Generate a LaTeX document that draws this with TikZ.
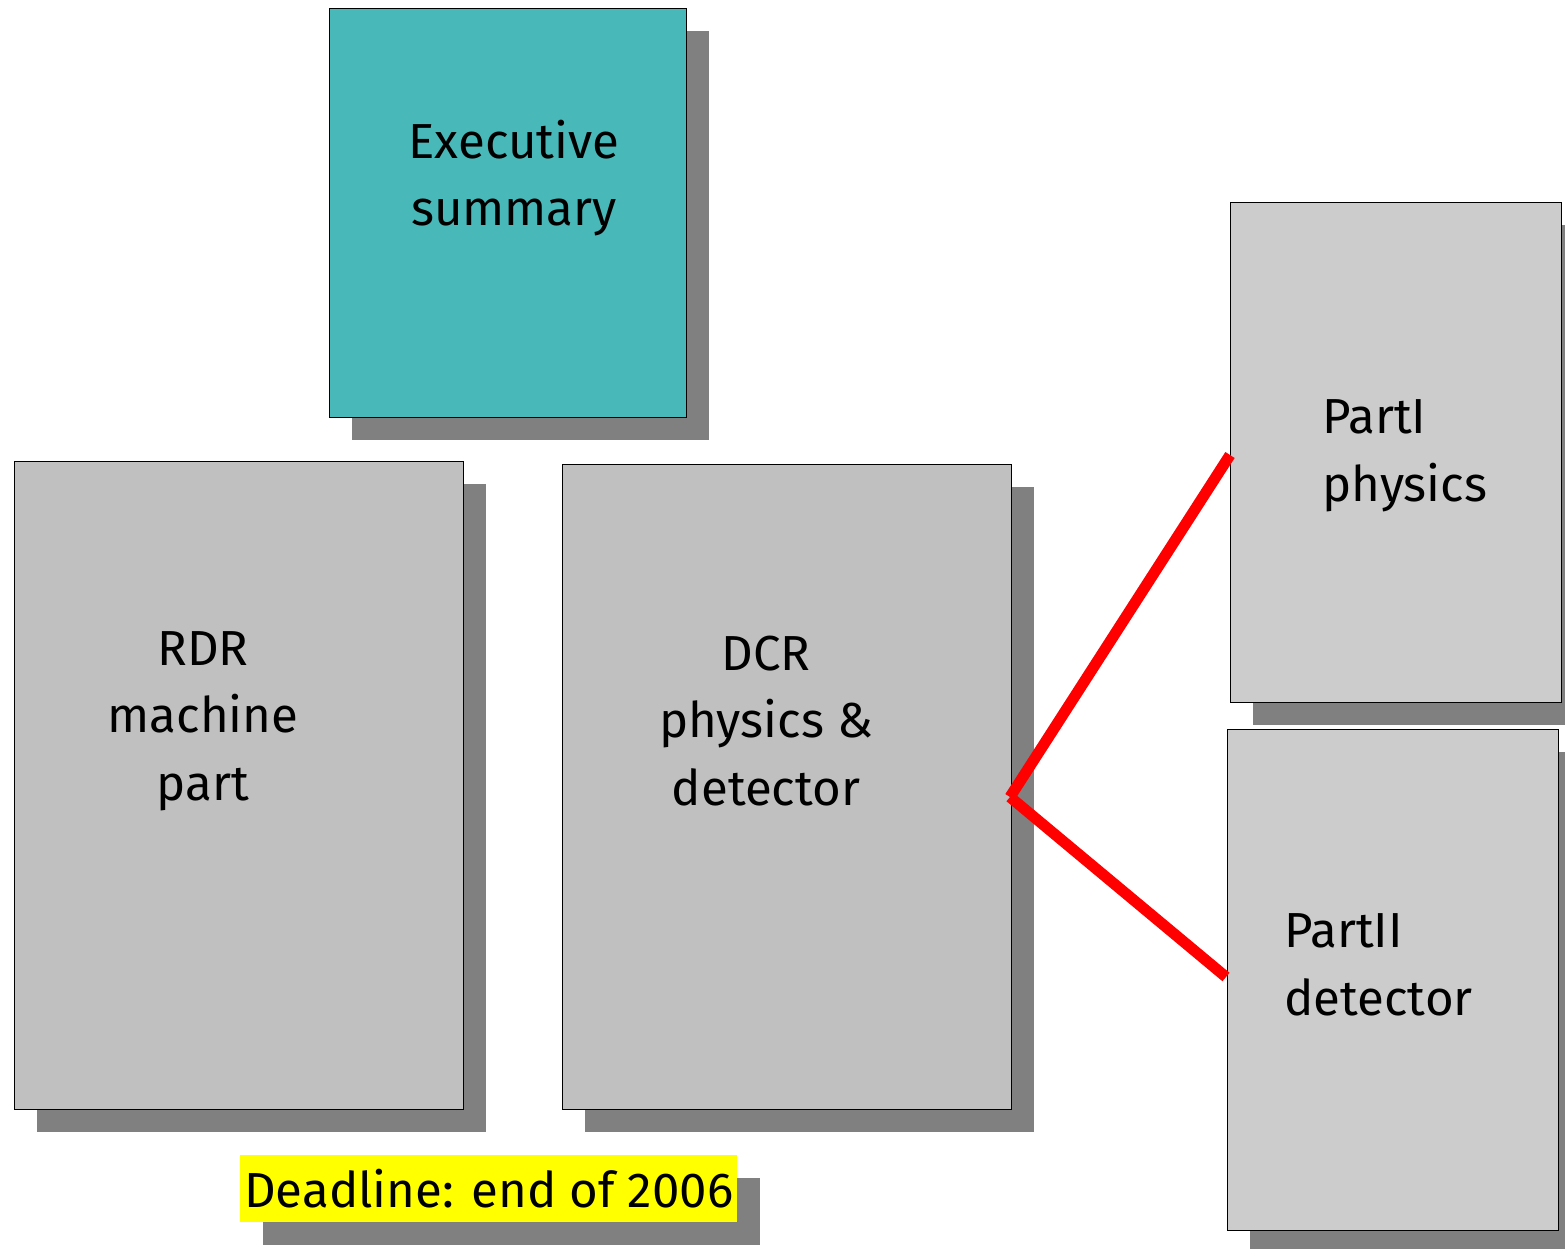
\documentclass[tikz,border=0pt]{standalone}
\usepackage{fontspec}
\setmainfont{Fira Sans}
\definecolor{teal1}{HTML}{48B8B8}
\definecolor{gbig}{HTML}{C0C0C0}
\definecolor{gsmall}{HTML}{CCCCCC}
\definecolor{shad}{HTML}{808080}
\definecolor{yel}{HTML}{FFFF00}
\definecolor{redl}{HTML}{FF0000}
\newcommand\shadbox[6]{%
  \fill[shad] ({#2+22.5},{#3+22.5}) rectangle ({#4+22.5},{#5+22.5});
  \node[boxst, fill=#6, anchor=north west,
        minimum width={(#4-#2)*0.02cm}, minimum height={(#5-#3)*0.02cm}] (#1) at (#2,#3) {};}
\tikzset{
  boxst/.style={draw=black, line width=0.8pt, inner sep=0pt},
  lbl/.style={font=\fontsize{28}{38.5}\selectfont, inner sep=0pt},
  conn/.style={draw=redl, line width=6.3pt, line cap=butt},
}
\begin{document}
\begin{tikzpicture}[x=0.02cm,y=-0.02cm]
\fill[white] (0,0) rectangle (1565,1248);
\useasboundingbox (0,0) rectangle (1565,1248);
\shadbox{exec}{329}{8}{686}{417}{teal1}
\shadbox{rdr}{14}{461}{463}{1109}{gbig}
\shadbox{dcr}{562}{464}{1011}{1109}{gbig}
\shadbox{p1}{1230}{202}{1561}{702}{gsmall}
\shadbox{p2}{1227}{729}{1558}{1230}{gsmall}
\fill[shad] (263,1178) rectangle (760,1245);
\node[fill=yel, inner sep=0pt, anchor=north west, minimum width={497*0.02cm}, minimum height={67*0.02cm}] (dl) at (240,1155) {};
\node[lbl, align=center] (exectxt) at (514,178) {Executive\\summary};
\node[lbl, align=center] (rdrtxt) at (203,721) {RDR\\machine\\part};
\node[lbl, align=center] (dcrtxt) at (766,721) {DCR\\physics \&\\detector};
\node[lbl, align=left, anchor=west] (p1txt) at (1322,456) {PartI\\physics};
\node[lbl, align=left, anchor=west] (p2txt) at (1284,965) {PartII\\detector};
\node[lbl] (dltxt) at (dl.center) {Deadline: end of 2006};
\coordinate (j) at (1010,797);
\coordinate (e1) at (1230,455);
\coordinate (e2) at (1226,977);
\draw[conn] (j) -- (e1);
\draw[conn] (j) -- (e2);
\end{tikzpicture}
\end{document}
